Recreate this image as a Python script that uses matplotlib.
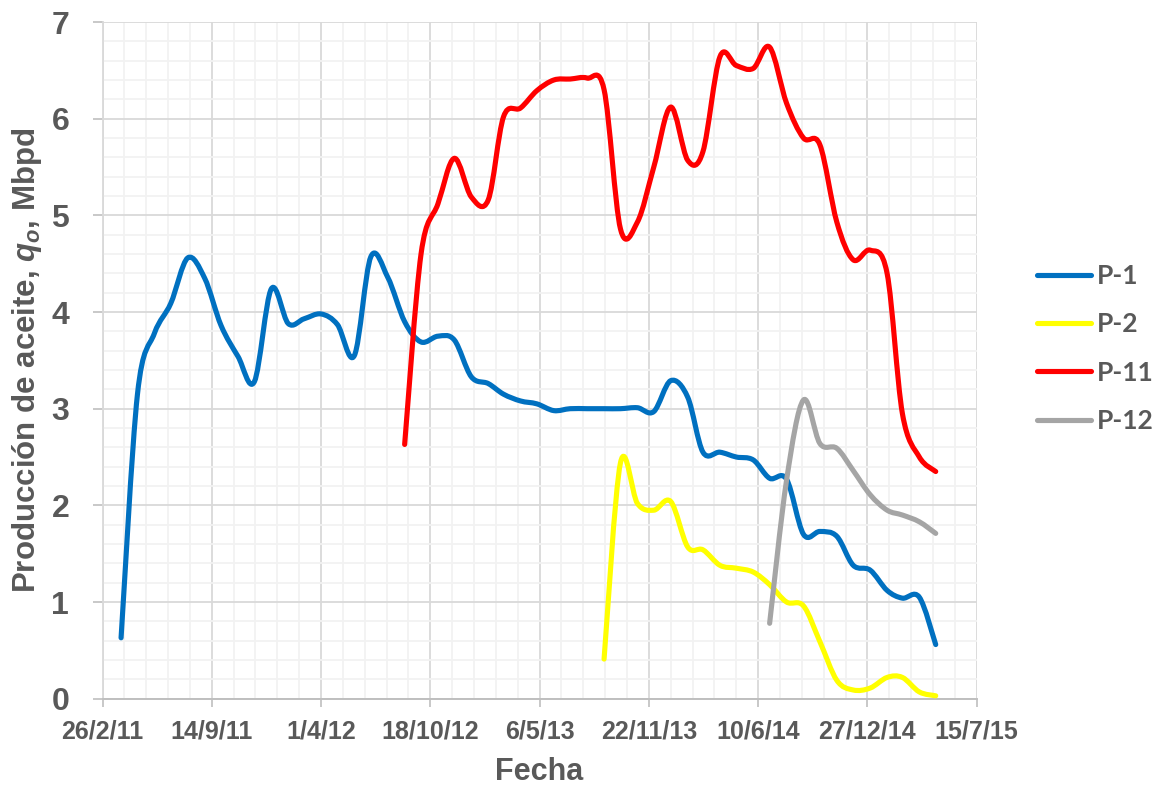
import datetime as dt
import numpy as np
import matplotlib
matplotlib.use("Agg")
import matplotlib.pyplot as plt
import matplotlib.dates as mdates
from matplotlib.path import Path
from matplotlib.patches import PathPatch
from matplotlib.lines import Line2D
from matplotlib.ticker import FixedLocator, FuncFormatter
from matplotlib.font_manager import FontProperties

# ---------------- data (monthly, first day of month) ----------------
p1_start = (2011, 4)
p1_values = [0.63, 3.15, 3.78, 4.09, 4.56, 4.35, 3.86, 3.54, 3.28,
             4.24, 3.88, 3.93, 3.98, 3.87, 3.55, 4.57, 4.36, 3.90, 3.69, 3.75, 3.71,
             3.33, 3.26, 3.15, 3.08, 3.05, 2.98, 3.00, 3.00, 3.00, 3.00, 3.01, 2.97,
             3.29, 3.12, 2.55, 2.55, 2.50, 2.47, 2.28, 2.27, 1.70, 1.73, 1.68, 1.38,
             1.33, 1.12, 1.04, 1.05, 0.56]

p2_start = (2013, 9)
p2_values = [0.41, 2.44, 2.02, 1.95, 2.04, 1.57, 1.54, 1.38, 1.35, 1.31, 1.18,
             1.00, 0.96, 0.59, 0.19, 0.09, 0.11, 0.22, 0.22, 0.07, 0.03]

p11_start = (2012, 9)
p11_values = [2.63, 4.60, 5.12, 5.59, 5.19, 5.16, 6.02, 6.11, 6.29, 6.40, 6.41,
              6.42, 6.30, 4.86, 4.93, 5.50, 6.12, 5.57, 5.66, 6.64, 6.55, 6.52,
              6.74, 6.16, 5.80, 5.73, 4.93, 4.54, 4.64, 4.40, 2.95, 2.50, 2.35]

p12_start = (2014, 7)
p12_values = [0.78, 2.26, 3.09, 2.64, 2.59, 2.36, 2.11, 1.95, 1.90, 1.83, 1.71]

series_names = ["P-1", "P-2", "P-11", "P-12"]
series_colors = ["#0070C0", "#FFFF00", "#FF0000", "#A5A5A5"]

x_start = dt.date(2011, 2, 26)
x_end = dt.date(2015, 7, 15)
major_step_days = 200
minor_step_days = 40
y_ticks = [0, 1, 2, 3, 4, 5, 6, 7]


def month_dates(start, n):
    y, m = start
    out = []
    for i in range(n):
        mm = m - 1 + i
        out.append(dt.date(y + mm // 12, mm % 12 + 1, 1))
    return out


def smooth_path(xs, ys):
    """Excel-like smoothed line: cubic Bezier segments (Catmull-Rom control points)."""
    P = np.column_stack([xs, ys]).astype(float)
    n = len(P)
    verts = [P[0]]
    codes = [Path.MOVETO]
    for i in range(n - 1):
        p0 = P[i - 1] if i > 0 else P[i]
        p1 = P[i]
        p2 = P[i + 1]
        p3 = P[i + 2] if i + 2 < n else P[i + 1]
        c1 = p1 + (p2 - p0) / 6.0
        c2 = p2 - (p3 - p1) / 6.0
        verts += [c1, c2, p2]
        codes += [Path.CURVE4] * 3
    return Path(verts, codes)


plt.rcParams["mathtext.fontset"] = "custom"
plt.rcParams["mathtext.rm"] = "Liberation Sans:bold"
plt.rcParams["mathtext.it"] = "Liberation Sans:bold:italic"
plt.rcParams["mathtext.bf"] = "Liberation Sans:bold"

fig = plt.figure(figsize=(11.6, 7.86), dpi=100)
ax = fig.add_axes([102.5 / 1160, 1 - 698.7 / 786, (976.7 - 102.5) / 1160, (698.7 - 22) / 786])

TXT = "#595959"

all_series = [(p1_start, p1_values), (p2_start, p2_values),
              (p11_start, p11_values), (p12_start, p12_values)]
handles = []
for (start, vals), name, col in zip(all_series, series_names, series_colors):
    dates = month_dates(start, len(vals))
    xs = mdates.date2num(dates)
    path = smooth_path(xs, vals)
    patch = PathPatch(path, fill=False, edgecolor=col, lw=3.7,
                      capstyle="round", joinstyle="round", zorder=3)
    ax.add_patch(patch)
    handles.append(Line2D([], [], color=col, lw=3.7, solid_capstyle="round"))

x0 = mdates.date2num(x_start)
x1 = mdates.date2num(x_end)
ax.set_xlim(x0, x1)
ax.set_ylim(0, 7)

ax.xaxis.set_major_locator(FixedLocator(np.arange(x0, x1 + 1, major_step_days)))
ax.xaxis.set_minor_locator(FixedLocator(np.arange(x0, x1 + 1, minor_step_days)))
ax.yaxis.set_major_locator(FixedLocator(y_ticks))
ax.yaxis.set_minor_locator(FixedLocator(np.arange(0, 7.01, 0.2)))


def fmt_date(v, pos):
    d = mdates.num2date(v)
    return f"{d.day}/{d.month}/{d.year % 100}"


ax.xaxis.set_major_formatter(FuncFormatter(fmt_date))
ax.yaxis.set_major_formatter(FuncFormatter(lambda v, p: f"{int(round(v))}"))

ax.grid(which="minor", color="#F2F2F2", lw=1.3, zorder=0)
ax.grid(which="major", color="#D9D9D9", lw=1.3, zorder=0)
ax.set_axisbelow(True)

for s in ["top", "right"]:
    ax.spines[s].set_visible(False)
ax.spines["bottom"].set_color("#BFBFBF")
ax.spines["bottom"].set_linewidth(1.4)
ax.spines["left"].set_color("#D9D9D9")
ax.spines["left"].set_linewidth(1.3)

ax.tick_params(axis="x", which="major", direction="out", length=6, width=1.2,
               color="#BFBFBF", pad=9, labelsize=18, labelcolor=TXT)
ax.tick_params(axis="y", which="major", direction="out", length=7, width=1.2,
               color="#BFBFBF", pad=17, labelsize=23, labelcolor=TXT)
ax.tick_params(which="minor", length=0)
for lab in ax.get_xticklabels() + ax.get_yticklabels():
    lab.set_fontfamily("Liberation Sans")
    lab.set_fontweight("bold")

ax.set_xlabel("Fecha", fontsize=22, fontweight="bold", color=TXT,
              fontfamily="Liberation Sans", labelpad=10)
ax.set_ylabel(r"Producción de aceite, $q_o$, Mbpd", fontsize=22.5, fontweight="bold",
              color=TXT, fontfamily="Liberation Sans", labelpad=5)

leg = ax.legend(handles, series_names, loc="upper left",
                bbox_to_anchor=(1036.7 / 1160, 1 - 264 / 786),
                bbox_transform=fig.transFigure, frameon=False,
                prop=FontProperties(family="Lato", weight="bold", size=19),
                labelcolor=TXT, handlelength=2.05, handletextpad=0.22,
                labelspacing=0.92, borderpad=0, borderaxespad=0)

fig.savefig("out.png", dpi=100)
